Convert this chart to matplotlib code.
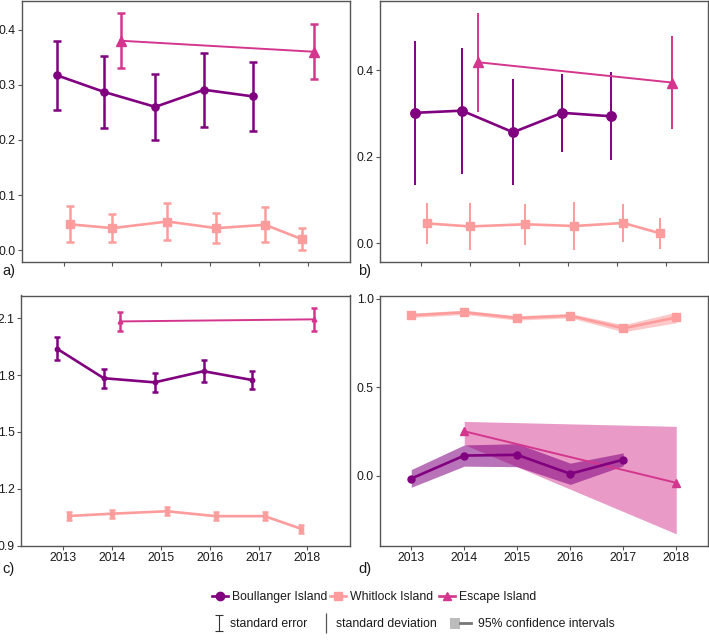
import numpy as np
import matplotlib
matplotlib.use("Agg")
import matplotlib.pyplot as plt
from matplotlib.lines import Line2D
from matplotlib.patches import Patch
from matplotlib.path import Path
from matplotlib.ticker import FormatStrFormatter, FixedLocator
from matplotlib.legend_handler import HandlerTuple

plt.rcParams['font.family'] = ['Liberation Sans', 'DejaVu Sans']

# ---------------- data ----------------
islands = ["Boullanger Island", "Whitlock Island", "Escape Island"]
years_boul = [2013, 2014, 2015, 2016, 2017]
years_whit = [2013, 2014, 2015, 2016, 2017, 2018]
years_esc = [2014, 2018]
year_ticks = [2013, 2014, 2015, 2016, 2017, 2018]
key_labels = ["standard error", "standard deviation", "95% confidence intervals"]

# panel a: mean +/- standard error
a_boul = [0.317, 0.287, 0.260, 0.291, 0.279]
a_boul_se = [0.063, 0.065, 0.060, 0.067, 0.062]
a_whit = [0.047, 0.040, 0.052, 0.040, 0.046, 0.020]
a_whit_se = [0.033, 0.025, 0.033, 0.027, 0.032, 0.020]
a_esc = [0.380, 0.360]
a_esc_se = [0.050, 0.050]

# panel b: mean +/- standard deviation
b_boul = [0.302, 0.307, 0.257, 0.302, 0.294]
b_boul_sd = [0.167, 0.146, 0.123, 0.091, 0.102]
b_whit = [0.046, 0.039, 0.044, 0.040, 0.047, 0.023]
b_whit_sd = [0.048, 0.055, 0.047, 0.055, 0.045, 0.036]
b_esc = [0.419, 0.372]
b_esc_sd = [0.115, 0.107]

# panel c: mean +/- standard error
c_boul = [1.940, 1.784, 1.762, 1.821, 1.774]
c_boul_se = [0.060, 0.050, 0.050, 0.058, 0.048]
c_whit = [1.056, 1.068, 1.081, 1.055, 1.055, 0.988]
c_whit_se = [0.022, 0.022, 0.022, 0.022, 0.022, 0.022]
c_esc = [2.084, 2.095]
c_esc_se = [0.050, 0.060]

# panel d: estimate with 95% confidence interval
d_boul = [-0.017, 0.113, 0.117, 0.010, 0.090]
d_boul_lo = [-0.066, 0.053, 0.050, -0.050, 0.055]
d_boul_hi = [0.034, 0.173, 0.180, 0.070, 0.128]
d_whit = [0.905, 0.922, 0.890, 0.903, 0.832, 0.893]
d_whit_lo = [0.893, 0.910, 0.878, 0.891, 0.812, 0.863]
d_whit_hi = [0.917, 0.934, 0.902, 0.915, 0.852, 0.923]
d_esc = [0.250, -0.041]
d_esc_lo = [0.175, -0.329]
d_esc_hi = [0.306, 0.278]

# ---------------- style ----------------
col = {"Boullanger Island": "#800080", "Whitlock Island": "#FD9C9C", "Escape Island": "#D4368E"}
mk = {"Boullanger Island": "o", "Whitlock Island": "s", "Escape Island": "^"}
years = {"Boullanger Island": years_boul, "Whitlock Island": years_whit, "Escape Island": years_esc}
spine_col = "#555555"
txt_col = "#1a1a1a"
FS = 8.8

def dodge(island, width=0.5):
    xs = []
    for y in years[island]:
        present = [isl for isl in islands if y in years[isl]]
        n = len(present)
        i = present.index(island)
        xs.append(y + (i - (n - 1) / 2) * width / n)
    return np.array(xs)

W, H = 709, 641
fig = plt.figure(figsize=(W / 100, H / 100), dpi=100)

def ax_at(x0, y0, x1, y1):
    return fig.add_axes([x0 / W, 1 - y1 / H, (x1 - x0) / W, (y1 - y0) / H])

def style(ax, xlim, ylim, yticks, labels_x):
    ax.set_xlim(*xlim)
    ax.set_ylim(*ylim)
    ax.xaxis.set_major_locator(FixedLocator(year_ticks))
    ax.yaxis.set_major_locator(FixedLocator(yticks))
    ax.yaxis.set_major_formatter(FormatStrFormatter('%.1f'))
    for s in ax.spines.values():
        s.set_color(spine_col)
        s.set_linewidth(1.0)
    ax.tick_params(axis='both', length=3, width=0.8, color=spine_col,
                   labelsize=FS, labelcolor=txt_col, pad=1.5)
    if not labels_x:
        ax.set_xticklabels([])

ax_a = ax_at(21.5, 0.5, 350, 262.3)
ax_b = ax_at(380, 0.5, 707.5, 262.3)
ax_c = ax_at(21, 295.5, 349.5, 545.5)
ax_d = ax_at(380, 295.5, 707.5, 545.5)

# panel a
sets_a = {"Boullanger Island": (a_boul, a_boul_se, 5.2),
          "Whitlock Island": (a_whit, a_whit_se, 5.4),
          "Escape Island": (a_esc, a_esc_se, 6.5)}
for isl, (v, e, ms) in sets_a.items():
    lw = 1.4 if isl == "Escape Island" else 1.9
    ax_a.errorbar(dodge(isl), v, yerr=e, color=col[isl], marker=mk[isl], ms=ms,
                  lw=lw, elinewidth=1.8, capsize=2.6, capthick=1.8)
style(ax_a, (2012.14, 2018.86), (-0.022, 0.453), [0.0, 0.1, 0.2, 0.3, 0.4], False)

# panel b
sets_b = {"Boullanger Island": (b_boul, b_boul_sd, 6.8),
          "Whitlock Island": (b_whit, b_whit_sd, 6.2),
          "Escape Island": (b_esc, b_esc_sd, 7.2)}
for isl, (v, e, ms) in sets_b.items():
    lw = 1.4 if isl == "Escape Island" else 1.9
    ax_b.errorbar(dodge(isl), v, yerr=e, color=col[isl], marker=mk[isl], ms=ms,
                  lw=lw, elinewidth=1.4, capsize=0)
style(ax_b, (2012.16, 2018.84), (-0.044, 0.562), [0.0, 0.2, 0.4], False)

# panel c
sets_c = {"Boullanger Island": (c_boul, c_boul_se, 3.2),
          "Whitlock Island": (c_whit, c_whit_se, 3.4),
          "Escape Island": (c_esc, c_esc_se, 3.4)}
for isl, (v, e, ms) in sets_c.items():
    lw = 1.4 if isl == "Escape Island" else 1.9
    ax_c.errorbar(dodge(isl), v, yerr=e, color=col[isl], marker=mk[isl], ms=ms,
                  lw=lw, elinewidth=1.8, capsize=2.4, capthick=1.8)
style(ax_c, (2012.14, 2018.86), (0.9, 2.221), [0.9, 1.2, 1.5, 1.8, 2.1], True)

# panel d
sets_d = {"Escape Island": (d_esc, d_esc_lo, d_esc_hi, 6.0, 0.5, 1.4),
          "Boullanger Island": (d_boul, d_boul_lo, d_boul_hi, 5.0, 0.55, 1.9),
          "Whitlock Island": (d_whit, d_whit_lo, d_whit_hi, 5.4, 0.55, 1.9)}
for isl, (v, lo, hi, ms, al, lw) in sets_d.items():
    yrs = years[isl]
    ax_d.fill_between(yrs, lo, hi, color=col[isl], alpha=al, lw=0)
    ax_d.plot(yrs, v, color=col[isl], marker=mk[isl], ms=ms, lw=lw)
style(ax_d, (2012.41, 2018.59), (-0.395, 1.017), [0.0, 0.5, 1.0], True)

# panel labels
for lab, x, y in [("a)", 2, 271), ("b)", 358, 271), ("c)", 2, 569), ("d)", 358, 569)]:
    fig.text(x / W, 1 - y / H, lab, fontsize=10.5, color=txt_col, va='center', ha='left')

# legends: each entry placed individually
def entry(handle, label, x_handle_left, y, hl, htp, hh=0.7):
    lg = fig.legend([handle], [label], loc='center left',
                    bbox_to_anchor=(x_handle_left / W, 1 - y / H), frameon=False,
                    fontsize=FS, handlelength=hl, handletextpad=htp, handleheight=hh,
                    borderaxespad=0, borderpad=0,
                    handler_map={tuple: HandlerTuple(ndivide=None)})
    for t in lg.get_texts():
        t.set_color(txt_col)
    return lg

row1_x = [212, 330, 439]
for isl, x in zip(islands, row1_x):
    h = Line2D([], [], color=col[isl], marker=mk[isl], ms=6, lw=1.9)
    entry(h, isl, x, 597, 1.3, 0.35)

ibeam = Path([(-0.45, -1), (0.45, -1), (0, -1), (0, 1), (-0.45, 1), (0.45, 1)],
             [Path.MOVETO, Path.LINETO, Path.MOVETO, Path.LINETO, Path.MOVETO, Path.LINETO])
h_se = Line2D([], [], ls='none', marker=ibeam, ms=12, mew=0.8, color="#333333", mfc='none')
h_sd = Line2D([], [], ls='none', marker='|', ms=14, mew=0.9, color="#555555")
h_ci = (Patch(facecolor="#999999", alpha=0.65, lw=0), Line2D([], [], color="#777777", lw=2.0))
entry(h_se, key_labels[0], 214, 624, 0.9, 0.4)
entry(h_sd, key_labels[1], 320, 624, 0.9, 0.45)
entry(h_ci, key_labels[2], 450, 624, 1.7, 0.55, hh=1.0)

fig.savefig("out.png", dpi=100)
